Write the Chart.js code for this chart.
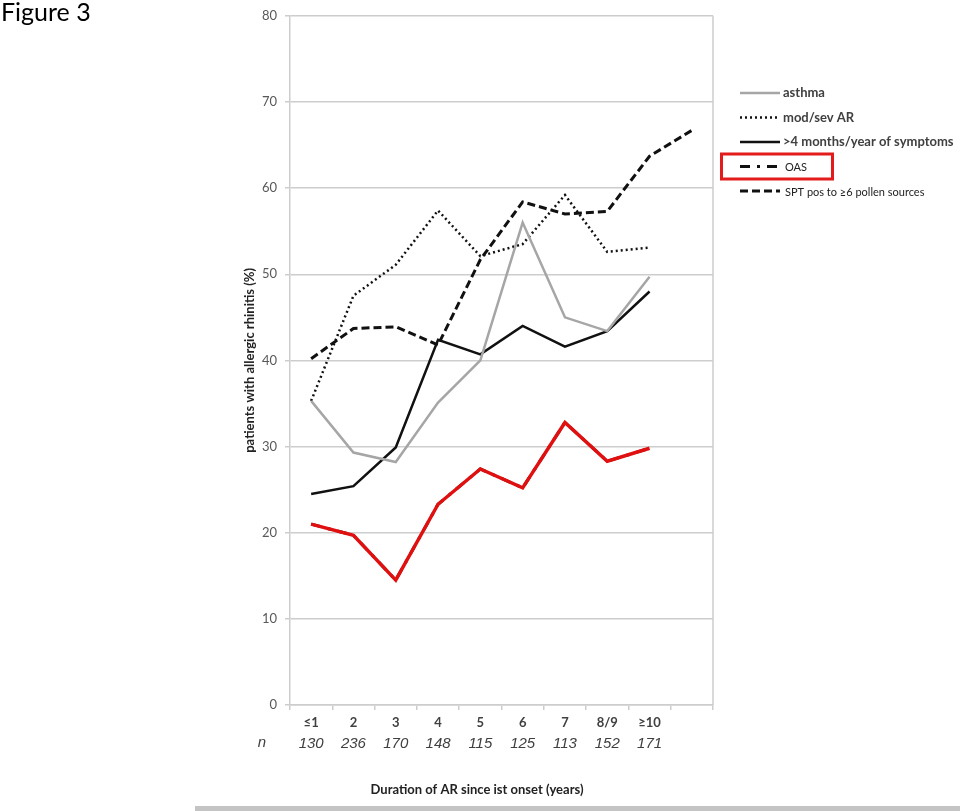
<!DOCTYPE html>
<html>
<head>
<meta charset="utf-8">
<script src="https://cdn.jsdelivr.net/npm/chart.js@4.4.1/dist/chart.umd.min.js"></script>
<style>
  body { margin: 0; background: #fff; }
  #wrap { position: relative; width: 960px; height: 811px; overflow: hidden; }
  #fig { position: absolute; left: 1px; top: -1px; font: 25px/25px Lato, sans-serif; color: #000; }
  #bar { position: absolute; left: 195px; top: 806px; width: 765px; height: 5px; background: #c4c4c4; }
  canvas { position: absolute; left: 0; top: 0; }
</style>
</head>
<body>
<div id="wrap">
  <canvas id="fig3" width="960" height="811"></canvas>
  <div id="fig">Figure 3</div>
  <div id="bar"></div>
</div>
<script>
const categories = ['≤1', '2', '3', '4', '5', '6', '7', '8/9', '≥10', ''];
const nCounts = ['130', '236', '170', '148', '115', '125', '113', '152', '171', ''];

const asthma = [35.3, 29.3, 28.2, 35.1, 40.0, 56.0, 45.0, 43.4, 49.7];
const modSevAR = [35.3, 47.5, 51.1, 57.4, 52.1, 53.5, 59.2, 52.6, 53.1];
const symptoms4m = [24.5, 25.4, 29.9, 42.4, 40.7, 44.0, 41.6, 43.4, 48.0];
const oas = [21.0, 19.7, 14.5, 23.3, 27.4, 25.2, 32.8, 28.3, 29.8];
const spt6 = [40.2, 43.7, 43.9, 41.8, 51.7, 58.4, 57.0, 57.3, 63.7, 66.7];

const yTicks = [0, 10, 20, 30, 40, 50, 60, 70, 80];
const yTitle = 'patients with allergic rhinitis (%)';
const xTitle = 'Duration of AR since ist onset (years)';

const gridColor = '#cdcdcd';

// legend, "n" label, x title and the plot frame are drawn here
const figureDecor = {
    id: 'figureDecor',
    afterDraw(chart) {
        const ctx = chart.ctx;
        const area = chart.chartArea;
        ctx.save();

        ctx.strokeStyle = gridColor;
        ctx.lineWidth = 1.5;
        ctx.beginPath();
        ctx.moveTo(area.right, area.top);
        ctx.lineTo(area.right, area.bottom);
        ctx.stroke();

        const ns = chart.scales.n;
        ctx.textAlign = 'center';
        ctx.textBaseline = 'middle';
        ctx.fillStyle = '#404040';
        ctx.font = 'italic 15px "Liberation Sans"';
        ctx.fillText('n', area.left - 28, ns.top + 11);

        ctx.fillStyle = '#222';
        ctx.font = 'bold 13px Lato';
        ctx.fillText(xTitle, 477, 790);

        let y = 93;
        chart.data.datasets.forEach(ds => {
            if (ds.inLegend === false) return;
            ctx.setLineDash(ds.borderDash || []);
            ctx.strokeStyle = ds.borderColor;
            ctx.lineWidth = ds.borderWidth;
            ctx.beginPath();
            ctx.moveTo(740, y);
            ctx.lineTo(780, y);
            ctx.stroke();
            ctx.setLineDash([]);

            ctx.textAlign = 'left';
            if (ds.legendBold) {
                ctx.font = 'bold 13px Lato';
                ctx.fillStyle = '#404040';
                ctx.fillText(ds.label, 783, y);
            } else {
                ctx.font = '11px Lato';
                ctx.fillStyle = '#222';
                ctx.fillText(ds.label, 785, y + 1);
            }

            if (ds.label === 'OAS') {
                ctx.strokeStyle = '#e31b1b';
                ctx.lineWidth = 3;
                ctx.strokeRect(721.5, y - 12.5, 111, 25);
            }
            y += 24.5;
        });
        ctx.restore();
    }
};

new Chart(document.getElementById('fig3'), {
    type: 'line',
    data: {
        labels: categories,
        datasets: [
            {
                label: 'OAS',
                data: oas,
                borderColor: '#e01010',
                borderWidth: 3.5,
                inLegend: false,
                order: -1
            },
            {
                label: 'asthma',
                data: asthma,
                borderColor: '#a6a6a6',
                borderWidth: 2.5,
                legendBold: true
            },
            {
                label: 'mod/sev AR',
                data: modSevAR,
                borderColor: '#111',
                borderWidth: 2.5,
                borderDash: [2, 3],
                legendBold: true
            },
            {
                label: '>4 months/year of symptoms',
                data: symptoms4m,
                borderColor: '#111',
                borderWidth: 2.5,
                legendBold: true
            },
            {
                label: 'OAS',
                data: oas,
                borderColor: '#111',
                borderWidth: 3,
                borderDash: [10, 7, 3, 7]
            },
            {
                label: 'SPT pos to ≥6 pollen sources',
                data: spt6,
                borderColor: '#111',
                borderWidth: 3,
                borderDash: [8, 4]
            }
        ]
    },
    options: {
        responsive: false,
        animation: false,
        layout: { padding: { left: 239, right: 247, top: 14, bottom: 14 } },
        elements: {
            point: { radius: 0, hoverRadius: 0 },
            line: { tension: 0, fill: false }
        },
        plugins: {
            legend: { display: false },
            tooltip: { enabled: false }
        },
        scales: {
            x: {
                type: 'category',
                position: 'bottom',
                weight: 0,
                offset: true,
                grid: {
                    display: true,
                    offset: true,
                    drawOnChartArea: false,
                    drawTicks: true,
                    tickLength: 5,
                    color: gridColor,
                    lineWidth: 1.5
                },
                border: { color: gridColor, width: 1.5 },
                ticks: {
                    autoSkip: false,
                    maxRotation: 0,
                    padding: 5,
                    color: '#404040',
                    font: { family: 'Lato', size: 13, weight: 'bold' }
                },
                afterFit: s => { s.height = 27; }
            },
            n: {
                type: 'category',
                labels: nCounts,
                position: 'bottom',
                weight: 1,
                offset: true,
                grid: { display: false, drawTicks: false },
                border: { display: false },
                ticks: {
                    autoSkip: false,
                    maxRotation: 0,
                    padding: 3,
                    color: '#404040',
                    font: { family: 'Liberation Sans', size: 15, style: 'italic' }
                },
                afterFit: s => { s.height = 65; }
            },
            y: {
                min: 0,
                max: 80,
                afterBuildTicks: s => { s.ticks = yTicks.map(v => ({ value: v })); },
                grid: {
                    color: gridColor,
                    lineWidth: 1.5,
                    tickLength: 5
                },
                border: { color: gridColor, width: 1.5 },
                ticks: {
                    padding: 8,
                    color: '#595959',
                    font: { family: 'Lato', size: 13 }
                },
                title: {
                    display: true,
                    text: yTitle,
                    color: '#222',
                    padding: { top: 3, bottom: 0 },
                    font: { family: 'Lato', size: 13, weight: 'bold' }
                },
                afterFit: s => { s.width = 51; }
            }
        }
    },
    plugins: [figureDecor]
});
</script>
</body>
</html>
